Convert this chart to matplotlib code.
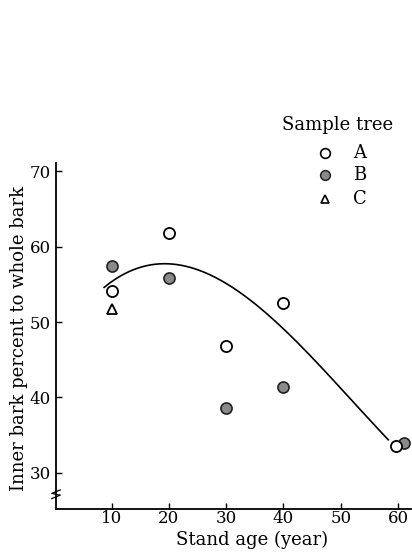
import numpy as np
import matplotlib
matplotlib.use('Agg')
import matplotlib.pyplot as plt

plt.rcParams['font.family'] = ['DejaVu Serif']

# 数据：林龄与内皮比例
age_a = [10, 20, 30, 40, 59.7]
pct_a = [54.1, 61.8, 46.8, 52.6, 33.5]
age_b = [10, 20, 30, 40, 61]
pct_b = [57.4, 55.8, 38.6, 41.4, 33.9]
age_c = [10]
pct_c = [51.7]

# 趋势线上读出的点
curve_x = [8.7, 19, 30, 39.4, 48.7, 58.3]
curve_y = [54.6, 57.8, 55.0, 49.7, 42.2, 34.4]

xticks = [10, 20, 30, 40, 50, 60]
yticks = [30, 40, 50, 60, 70]

fig = plt.figure(figsize=(4.12, 5.55), dpi=100)
ax = fig.add_axes([0.136, 0.083, 0.862, 0.623])

coef = np.polyfit(curve_x, curve_y, 3)
xs = np.linspace(curve_x[0], curve_x[-1], 200)
ax.plot(xs, np.polyval(coef, xs), color='black', lw=1.2, zorder=1)

ax.plot(age_a, pct_a, 'o', ms=8, mfc='white', mec='black', mew=1.3, ls='none', zorder=3)
ax.plot(age_b, pct_b, 'o', ms=8, mfc='#8a8a8a', mec='#222222', mew=1.2, ls='none', zorder=2)
ax.plot(age_c, pct_c, '^', ms=6.5, mfc='white', mec='black', mew=1.3, ls='none', zorder=3)

ax.set_xlim(0.3, 62.3)
ax.set_ylim(25.2, 71.1)
ax.set_xticks(xticks)
ax.set_yticks(yticks)
ax.tick_params(direction='in', length=4, width=1, labelsize=12)
ax.tick_params(axis='x', pad=0.5)
ax.spines['top'].set_visible(False)
ax.spines['right'].set_visible(False)
ax.spines['left'].set_linewidth(1.3)
ax.spines['bottom'].set_linewidth(1.3)

ax.set_xlabel('Stand age (year)', fontsize=13)
ax.xaxis.set_label_coords(0.552, -0.062)
ax.set_ylabel('Inner bark percent to whole bark', fontsize=13)
ax.yaxis.set_label_coords(-0.08, 0.494)

# 纵轴断开符号
ax.plot([-0.012, 0.012, -0.012, 0.012], [0.030, 0.040, 0.045, 0.055],
        transform=ax.transAxes, color='black', lw=0.9, clip_on=False)

# 图例
fig.text(0.819, 0.775, 'Sample tree', fontsize=13, ha='center', va='center')
leg_y = [0.724, 0.685, 0.641]
fig.lines.append(plt.Line2D([0.789], [leg_y[0]], marker='o', ms=7, mfc='white', mec='black', mew=1.2, transform=fig.transFigure))
fig.lines.append(plt.Line2D([0.789], [leg_y[1]], marker='o', ms=7, mfc='#8a8a8a', mec='#222222', mew=1.1, transform=fig.transFigure))
fig.lines.append(plt.Line2D([0.789], [leg_y[2]], marker='^', ms=6, mfc='white', mec='black', mew=1.2, transform=fig.transFigure))
for lab, yy in zip(['A', 'B', 'C'], leg_y):
    fig.text(0.874, yy, lab, fontsize=13, ha='center', va='center')

fig.savefig('out.png', dpi=100)
